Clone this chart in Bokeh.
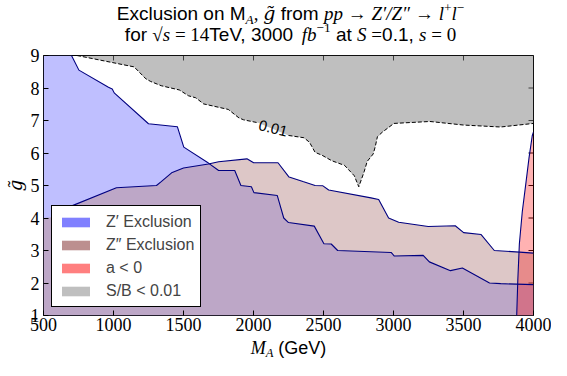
import math
from bokeh.plotting import figure
from bokeh.layouts import column
from bokeh.models import (Label, Legend, LegendItem, FixedTicker, Range1d)
from bokeh.embed import file_html
from bokeh.resources import INLINE

# ---------------- data ----------------
zprime_mass = [700, 753, 964, 991, 1005, 1250, 1456, 1502, 1678, 1751, 1866, 1910, 1985, 2003, 2170,
               2216, 2250, 2434, 2503, 2555, 2601, 2983, 3006, 3212, 3256, 3407, 3492, 3686, 3766, 4000]
zprime_g = [9.0, 8.55, 8.02, 7.97, 7.85, 6.90, 6.81, 6.18, 5.69, 5.46, 5.46, 5.00, 4.96, 4.78, 4.69,
            4.00, 3.86, 3.75, 3.21, 3.20, 3.00, 2.94, 2.83, 2.85, 2.65, 2.38, 2.46, 2.00, 1.98, 1.95]

zpp_mass = [500, 620, 655, 689, 1021, 1307, 1341, 1415, 1500, 1678, 1751, 1953, 2001, 2175, 2254,
            2353, 2440, 2496, 2537, 2839, 2894, 2965, 3037, 3248, 3441, 3501, 3626, 3720, 3900, 4000]
zpp_g = [4.00, 4.05, 4.27, 4.35, 4.93, 5.00, 5.12, 5.39, 5.54, 5.66, 5.73, 5.82, 5.70, 5.70, 5.26,
         5.12, 5.00, 4.99, 4.86, 4.62, 4.57, 4.00, 3.87, 3.74, 3.76, 3.55, 3.49, 3.00, 2.95, 2.92]

aneg_mass = [3880, 3888, 3899, 3920, 3945, 3968, 3991, 4000]
aneg_g = [1.0, 2.1, 3.2, 4.2, 5.05, 5.85, 6.53, 6.65]

sb_mass = [739, 1147, 1232, 1266, 1341, 1470, 1536, 1587, 1644, 1820, 1896, 1930, 2033, 2250, 2360,
           2400, 2440, 2490, 2560, 2650, 2720, 2752, 2790, 2812, 2855, 2870, 2885, 2920, 3003, 3260,
           3500, 3765, 4000]
sb_g = [9.0, 8.65, 8.28, 8.20, 8.07, 7.94, 7.76, 7.70, 7.51, 7.34, 7.08, 7.02, 6.93, 6.54, 6.47,
        6.33, 6.02, 5.93, 5.76, 5.62, 5.30, 4.96, 5.42, 5.74, 5.97, 6.20, 6.50, 6.64, 6.91, 6.97,
        6.86, 6.80, 6.91]

contour_label = "0.01"
contour_label_pos = (2140, 6.76)
label_gap = (2033, 2250)

x_ticks = [500, 1000, 1500, 2000, 2500, 3000, 3500, 4000]
y_ticks = [1, 2, 3, 4, 5, 6, 7, 8, 9]
legend_labels = ["Z\u2032 Exclusion", "Z\u2033 Exclusion", "a < 0", "S/B < 0.01"]

# ---------------- styles ----------------
BLUE = "#8080ff"
BROWN = "#bc8f8f"
RED = "#ff0000"
GRAY = "#808080"
NAVY = "#000080"

W = 551
FL, FR, FT, FB = 43, 18, 9, 23
H_TITLE, H_XLAB = 46, 22
FW = W - FL - FR
FH = 360 - H_TITLE - H_XLAB - FT - FB
H_MAIN = FT + FH + FB
X0, X1, Y0, Y1 = 500, 4000, 1, 9

p = figure(width=W, height=H_MAIN, x_range=Range1d(X0, X1), y_range=Range1d(Y0, Y1),
           output_backend="svg", toolbar_location=None,
           min_border_left=FL, min_border_right=FR, min_border_top=FT, min_border_bottom=FB)
p.xgrid.visible = False
p.ygrid.visible = False
p.background_fill_color = "white"
p.border_fill_color = "white"
p.outline_line_color = "black"
p.outline_line_width = 1
p.outline_line_alpha = 1


def style_axis(ax, ticks, standoff):
    ax.ticker = FixedTicker(ticks=ticks, minor_ticks=[])
    ax.major_tick_in = 5
    ax.major_tick_out = 0
    ax.minor_tick_in = 0
    ax.minor_tick_out = 0
    ax.major_tick_line_color = "black"
    ax.major_tick_line_width = 1
    ax.axis_line_color = None
    ax.major_label_text_font = "Liberation Serif"
    ax.major_label_text_font_size = "18px"
    ax.major_label_text_color = "black"
    ax.major_label_standoff = standoff


style_axis(p.xaxis[0], x_ticks, 2)
style_axis(p.yaxis[0], y_ticks, 4)
p.yaxis[0].axis_label = "g\u0303"
p.yaxis[0].axis_label_text_font = "DejaVu Serif"
p.yaxis[0].axis_label_text_font_style = "italic"
p.yaxis[0].axis_label_text_font_size = "18px"
p.yaxis[0].axis_label_text_color = "black"
p.yaxis[0].axis_label_standoff = 2

# inward ticks on the top and right spines
p.ray(x=x_ticks, y=[Y1] * len(x_ticks), length=5, length_units="screen",
      angle=-math.pi / 2, line_color="black", line_width=1)
p.ray(x=[X1] * len(y_ticks), y=y_ticks, length=5, length_units="screen",
      angle=math.pi, line_color="black", line_width=1)

# ---------------- filled regions ----------------
zp_x, zp_y = [X0] + zprime_mass + [X1, X0], [Y1] + zprime_g + [Y0, Y0]
zpp_x, zpp_y = zpp_mass + [X1, X0], zpp_g + [Y0, Y0]
an_x, an_y = aneg_mass + [X1], aneg_g + [Y0]
sb_x, sb_y = sb_mass + [X1], sb_g + [Y1]

p.patch(zp_x, zp_y, fill_color=BLUE, fill_alpha=0.5, line_alpha=0)
p.patch(zpp_x, zpp_y, fill_color=BROWN, fill_alpha=0.5, line_alpha=0)
p.patch(sb_x, sb_y, fill_color=GRAY, fill_alpha=0.5, line_alpha=0)
p.patch(an_x, an_y, fill_color=RED, fill_alpha=0.3, line_alpha=0)

# ---------------- contour lines ----------------
p.line(zprime_mass, zprime_g, line_color=NAVY, line_width=1.1)
p.line(zpp_mass[1:], zpp_g[1:], line_color=NAVY, line_width=1.1)
p.line(aneg_mass, aneg_g, line_color=NAVY, line_width=1.1)
left = [(m, g) for m, g in zip(sb_mass, sb_g) if m <= label_gap[0]]
right = [(m, g) for m, g in zip(sb_mass, sb_g) if m >= label_gap[1]]
for seg in (left, right):
    p.line([a for a, _ in seg], [b for _, b in seg], line_color="black",
           line_width=1, line_dash="4 2")

p.add_layout(Label(x=contour_label_pos[0], y=contour_label_pos[1], text=contour_label,
                   angle=-0.24, text_align="center", text_baseline="middle",
                   text_font="Liberation Sans", text_font_size="15px", text_color="black"))

# ---------------- legend (swatches use stronger alpha, like the reference) ----------------
swatch = []
for (xs, ys), c, a in zip([(zp_x, zp_y), (zpp_x, zpp_y), (an_x, an_y), (sb_x, sb_y)],
                          (BLUE, BROWN, RED, GRAY), (1.0, 1.0, 0.5, 0.5)):
    swatch.append(p.patch(xs, ys, fill_color=c, fill_alpha=a, line_alpha=0, visible=False))
legend = Legend(items=[LegendItem(label=l, renderers=[r]) for l, r in zip(legend_labels, swatch)],
                location=(8, 8), orientation="vertical", click_policy="none",
                label_text_font="Liberation Sans", label_text_font_size="16px",
                glyph_width=35, glyph_height=12, label_height=19, label_standoff=13,
                spacing=4, padding=6, margin=0,
                border_line_color="black", border_line_width=1, border_line_alpha=1,
                background_fill_color="white", background_fill_alpha=1,
                inactive_fill_alpha=0)
p.add_layout(legend)

# ---------------- text strips (title above, x label below) ----------------
WID = {
    "sans": {'E': .667, 'x': .5, 'c': .5, 'l': .222, 'u': .556, 's': .5, 'i': .222, 'o': .556,
             'n': .556, ' ': .278, 'M': .833, 'f': .278, 'r': .333, 'm': .833, 'T': .611,
             'e': .556, 'V': .667, ',': .278, '.': .278, 'a': .556, 't': .278, '(': .333,
             ')': .333, 'G': .778, '0': .556, '1': .556, '3': .556, '4': .556},
    "serif": {' ': .25, ',': .25, '=': .564, '\u2192': 1.0, '1': .5, '4': .5, '0': .5,
              '+': .564, '\u2212': .564, '\u221a': .549},
    "serifi": {' ': .25, 'A': .611, 'g': .5, 'p': .5, 'Z': .556, '\u2032': .25, '/': .278,
               '\u2033': .4, 'l': .278, 's': .389, 'f': .278, 'b': .5, 'S': .5, 'a': .5, 'M': .833},
    "dvi": {'g': .64},
}
FONT = {"sans": ("Liberation Sans", "normal"), "serif": ("Liberation Serif", "normal"),
        "serifi": ("Liberation Serif", "italic"), "dvi": ("DejaVu Serif", "italic")}
BASE_SHIFT = 0.39   # Label's alphabetic anchor sits this many em below the requested y


def strip(h):
    # frames in the column line up with the main plot: x is measured from the frame's left edge
    f = figure(width=W, height=h, x_range=Range1d(0, FW), y_range=Range1d(h, 0),
               output_backend="svg", toolbar_location=None,
               min_border_left=FL, min_border_right=FR, min_border_top=0, min_border_bottom=0,
               x_axis_type=None, y_axis_type=None)
    f.outline_line_color = None
    f.background_fill_color = "white"
    f.border_fill_color = "white"
    return f


def char_w(ch, kind):
    if 0x300 <= ord(ch) <= 0x36f:
        return 0.0
    return WID[kind].get(ch, 0.55)


def text_run(fig, pieces, cx, baseline, F):
    widths = [sum(char_w(ch, k) for ch in t) * F * s for t, k, s, r in pieces]
    x = cx - sum(widths) / 2
    for (t, k, s, r), w in zip(pieces, widths):
        lead = len(t) - len(t.lstrip())
        off = sum(char_w(ch, k) for ch in t[:lead]) * F * s
        font, style = FONT[k]
        size = F * s
        fig.add_layout(Label(x=x + off, y=baseline - r * F - BASE_SHIFT * size, text=t.strip(),
                             text_font=font, text_font_style=style,
                             text_font_size=f"{size:.1f}px", text_baseline="alphabetic",
                             text_align="left", text_color="black"))
        x += w


title1 = [("Exclusion on M", "sans", 1, 0), ("A", "serifi", 0.7, -0.2), (", ", "serif", 1, 0),
          ("g\u0303", "dvi", 1, 0), (" from ", "sans", 1, 0), ("pp", "serifi", 1, 0),
          (" \u2192 ", "serif", 1, 0), ("Z\u2032/Z\u2033", "serifi", 1, 0),
          (" \u2192 ", "serif", 1, 0), ("l", "serifi", 1, 0), ("+", "serif", 0.7, 0.4),
          ("l", "serifi", 1, 0), ("\u2212", "serif", 0.7, 0.4)]
title2 = [("for ", "sans", 1, 0), ("\u221a", "serif", 1, 0), ("s", "serifi", 1, 0),
          (" = ", "serif", 1, 0), ("14", "serif", 1, 0), ("TeV, 3000", "sans", 1, 0),
          (" fb", "serifi", 1, 0), ("\u22121", "serif", 0.7, 0.45), (" at ", "sans", 1, 0),
          ("S", "serifi", 1, 0), (" =", "serif", 1, 0), ("0.1, ", "sans", 1, 0),
          ("s", "serifi", 1, 0), (" = 0", "serif", 1, 0)]
xlabel = [("M", "serifi", 1, 0), ("A", "serifi", 0.7, -0.15), (" (GeV)", "sans", 1, 0)]

title_fig = strip(H_TITLE)
text_run(title_fig, title1, FW / 2 + 2, 20, 19)
text_run(title_fig, title2, FW / 2 + 2, 41.5, 19)

xlab_fig = strip(H_XLAB)
text_run(xlab_fig, xlabel, FW / 2, 16.5, 18)

layout = column(title_fig, p, xlab_fig, spacing=0)

with open("out.html", "w", encoding="utf-8") as f:
    f.write(file_html(layout, INLINE))
